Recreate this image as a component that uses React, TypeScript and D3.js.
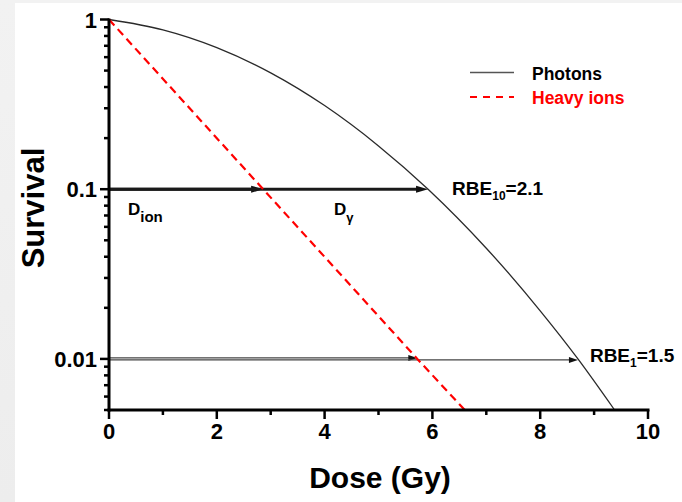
import React from "react";
import * as d3 from "d3";

// Survival curves (log scale) for photons and heavy ions
const photonDose = [0, 1, 2, 3, 4, 5, 5.92, 7, 8, 8.7, 9.38];
const photonSurvival = [1, 0.869, 0.683, 0.485, 0.311, 0.18, 0.1, 0.0449, 0.0192, 0.01, 0.005];

const ionDose = [0, 2.86, 5.72, 6.6];
const ionSurvival = [1, 0.1, 0.01, 0.005];

// Iso-effect levels with the dose needed for each radiation type
const isoLevels = [0.1, 0.01];
const isoIonDose = [2.86, 5.72];
const isoPhotonDose = [5.92, 8.7];
const rbeSub = ["10", "1"];
const rbeValue = ["2.1", "1.5"];

const doseTicks = [0, 2, 4, 6, 8, 10];
const survivalTicks = [1, 0.1, 0.01];
const survivalTickLabels = ["1", "0.1", "0.01"];

const W = 682;
const H = 502;
const FONT = "'Liberation Sans', Arial, Helvetica, sans-serif";

export default function App() {
  const x = d3.scaleLinear().domain([0, 10]).range([109, 648]);
  const y = d3.scaleLog().domain([0.005, 1]).range([410, 19.5]);

  const photonLine = d3
    .line<number>()
    .x((d) => x(photonDose[d]))
    .y((d) => y(photonSurvival[d]))
    .curve(d3.curveMonotoneX)(photonDose.map((_, i) => i)) as string;

  const ionLine = d3
    .line<number>()
    .x((d) => x(ionDose[d]))
    .y((d) => y(ionSurvival[d]))(ionDose.map((_, i) => i)) as string;

  const xMinor = x.ticks(10).filter((t) => !doseTicks.includes(t));
  const yAll = y.ticks();
  const yMinor = yAll.filter(
    (t) => !survivalTicks.some((m) => Math.abs(m - t) / m < 1e-6)
  );

  const x0 = x(0);
  const yBottom = y(0.005);

  const arrow = (
    key: string,
    x1: number,
    x2: number,
    yy: number,
    width: number,
    headLen: number,
    headHalf: number,
    color: string
  ) => (
    <g key={key}>
      <line x1={x1} x2={x2 - headLen + 1} y1={yy} y2={yy} stroke={color} strokeWidth={width} />
      <path
        d={`M${x2},${yy} L${x2 - headLen},${yy - headHalf} L${x2 - headLen},${yy + headHalf} Z`}
        fill="#111"
      />
    </g>
  );

  return (
    <svg
      width={W}
      height={H}
      style={{ position: "absolute", left: 0, top: 0, fontFamily: FONT }}
    >
      <defs>
        <linearGradient id="bg" x1="0" y1="0" x2="0" y2="1">
          <stop offset="0" stopColor="#f2f2f2" />
          <stop offset="1" stopColor="#ededed" />
        </linearGradient>
      </defs>
      <rect x={0} y={0} width={W} height={H} fill="url(#bg)" />
      <rect x={15} y={3} width={W - 15} height={H - 3} fill="#ffffff" />

      {/* iso-effect arrows at 10% survival */}
      {arrow("ion10", x0, x(isoIonDose[0]), y(isoLevels[0]), 3, 12, 3.5, "#1a1a1a")}
      {arrow("ph10", x0, x(isoPhotonDose[0]), y(isoLevels[0]), 3, 12, 3.5, "#1a1a1a")}

      {/* iso-effect arrows at 1% survival */}
      {arrow("ion1", x0, x(isoIonDose[1]), y(isoLevels[1]) - 1, 1.1, 9, 3, "#444")}
      {arrow("ph1", x0, x(isoPhotonDose[1]), y(isoLevels[1]) + 1, 1.1, 9, 3, "#444")}

      {/* curves */}
      <path d={photonLine} fill="none" stroke="#2a2a2a" strokeWidth={1.3} />
      <path
        d={ionLine}
        fill="none"
        stroke="#ff0000"
        strokeWidth={2.2}
        strokeDasharray="8,5"
      />

      {/* axes */}
      <line x1={x0} x2={x0} y1={y(1) - 1} y2={yBottom + 1.5} stroke="#000" strokeWidth={3} />
      <line x1={x0 - 1.5} x2={x(10) + 1.5} y1={yBottom} y2={yBottom} stroke="#000" strokeWidth={3} />

      {survivalTicks.map((t) => (
        <line key={"ym" + t} x1={x0 - 9} x2={x0} y1={y(t)} y2={y(t)} stroke="#000" strokeWidth={2.5} />
      ))}
      {yMinor.map((t) => (
        <line key={"yn" + t} x1={x0 - 5} x2={x0} y1={y(t)} y2={y(t)} stroke="#000" strokeWidth={2.5} />
      ))}
      {doseTicks.map((t) => (
        <line key={"xm" + t} x1={x(t)} x2={x(t)} y1={yBottom} y2={yBottom + 9} stroke="#000" strokeWidth={2.5} />
      ))}
      {xMinor.map((t) => (
        <line key={"xn" + t} x1={x(t)} x2={x(t)} y1={yBottom} y2={yBottom + 5} stroke="#000" strokeWidth={2.5} />
      ))}

      {/* tick labels */}
      {survivalTicks.map((t, i) => (
        <text
          key={"yl" + t}
          x={x0 - 12}
          y={y(t) + 8}
          textAnchor="end"
          fontSize={22}
          fontWeight="bold"
        >
          {survivalTickLabels[i]}
        </text>
      ))}
      {doseTicks.map((t) => (
        <text
          key={"xl" + t}
          x={x(t)}
          y={439}
          textAnchor="middle"
          fontSize={22}
          fontWeight="bold"
        >
          {t}
        </text>
      ))}

      {/* axis titles */}
      <text x={380} y={488} textAnchor="middle" fontSize={30} fontWeight="bold">
        Dose (Gy)
      </text>
      <text
        transform="translate(44,208) rotate(-90)"
        textAnchor="middle"
        fontSize={31}
        fontWeight="bold"
      >
        Survival
      </text>

      {/* dose annotations */}
      <text x={128} y={215} fontSize={17} fontWeight="bold">
        D
        <tspan fontSize={15} dy={7}>
          ion
        </tspan>
      </text>
      <text x={334} y={215} fontSize={17} fontWeight="bold">
        D
        <tspan fontSize={13} dy={7}>
          γ
        </tspan>
      </text>

      {/* RBE labels */}
      {isoLevels.map((lv, i) => (
        <text
          key={"rbe" + i}
          x={x(isoPhotonDose[i]) + (i === 0 ? 24 : 12)}
          y={i === 0 ? 195 : 362}
          fontSize={19}
          fontWeight="bold"
        >
          RBE
          <tspan fontSize={12} dy={5}>
            {rbeSub[i]}
          </tspan>
          <tspan dy={-5}>={rbeValue[i]}</tspan>
        </text>
      ))}

      {/* legend */}
      <line x1={470} x2={514} y1={72.5} y2={72.5} stroke="#555" strokeWidth={1.3} />
      <text x={532} y={80} fontSize={17.5} fontWeight="bold">
        Photons
      </text>
      <line
        x1={470}
        x2={514}
        y1={97}
        y2={97}
        stroke="#ff0000"
        strokeWidth={2.2}
        strokeDasharray="7,6"
      />
      <text x={532} y={104} fontSize={17.5} fontWeight="bold" fill="#ff0000">
        Heavy ions
      </text>
    </svg>
  );
}
